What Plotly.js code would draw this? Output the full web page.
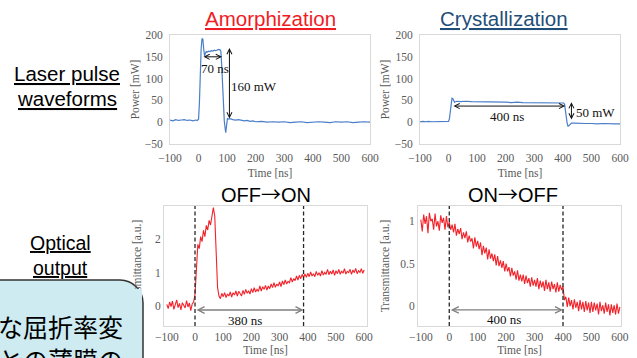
<!DOCTYPE html>
<html>
<head>
<meta charset="utf-8">
<script src="https://cdn.plot.ly/plotly-3.0.1.min.js"></script>
<style>
html,body{margin:0;padding:0;background:#fff;}
#chart{width:637px;height:358px;}
</style>
</head>
<body>
<div id="chart"></div>
<script>
// ---------- data ----------
const tAmorph = [-100,-90,-80,-70,-60,-50,-40,-30,-20,-10,-5,0,3,6,9,12,15,18,21,24,27,30,35,40,45,50,55,60,65,70,75,78,81,84,87,90,93,95,98,101,105,110,120,130,140,150,160,170,180,190,200,220,240,260,280,300,320,340,360,380,400,420,440,460,480,500,520,540,560,580,600];
const pAmorph = [5,3,6,4,5,6,4,5,3,5,4,7,45,115,168,192,190,168,152,158,162,161,163,162,164,163,165,164,166,167,166,163,130,75,28,3,-14,-24,-8,9,7,8,6,5,6,4,3,4,2,3,1,2,0,1,0,1,-1,0,1,-1,0,1,0,-1,1,0,1,-1,0,1,0];

const tCryst = [-100,-90,-80,-70,-60,-50,-40,-30,-20,-10,0,3,6,9,12,15,18,21,25,30,40,60,80,100,120,140,160,180,200,220,240,260,280,300,320,340,360,380,400,403,406,409,412,415,418,421,425,430,440,460,480,500,520,540,560,580,600];
const pCryst = [1,2,1,2,1,1,2,1,2,1,2,8,30,48,55,54,49,46,47,48,47,48,47,47,46,47,46,46,46,45,46,45,45,45,44,45,44,44,44,44,41,30,12,-2,-9,-8,-4,-2,-2,-3,-3,-3,-4,-3,-4,-4,-4];

const tOptical = [
  -100,-95,-90,-85,-80,-75,-70,-65,-60,-55,-50,-45,-40,-35,-30,-25,-20,-15,-10,-5,
  0,5,10,15,20,25,30,35,40,45,50,55,60,65,70,75,80,85,90,95,
  100,105,110,115,120,125,130,135,140,145,150,155,160,165,170,175,180,185,190,195,
  200,205,210,215,220,225,230,235,240,245,250,255,260,265,270,275,280,285,290,295,
  300,305,310,315,320,325,330,335,340,345,350,355,360,365,370,375,380,385,390,395,
  400,405,410,415,420,425,430,435,440,445,450,455,460,465,470,475,480,485,490,495,
  500,505,510,515,520,525,530,535,540,545,550,555,560,565,570,575,580,585,590,595,
  600];
const trOffOn = [
  0.05,-0.08,0.12,-0.02,0.15,-0.1,0.04,0.18,-0.05,0.08,-0.12,0.1,0.02,-0.06,0.16,-0.03,0.09,-0.14,0.06,0.12,
  0.35,1.15,1.85,1.72,2.08,1.93,2.27,2.08,2.42,2.28,2.57,2.43,2.78,2.95,2.7,1.6,0.55,0.3,0.22,0.38,
  0.28,0.4,0.25,0.36,0.3,0.42,0.27,0.4,0.33,0.45,0.3,0.44,0.36,0.3,0.47,0.35,0.5,0.38,0.46,0.36,
  0.52,0.4,0.55,0.42,0.5,0.44,0.6,0.45,0.58,0.5,0.62,0.48,0.6,0.52,0.66,0.55,0.7,0.56,0.66,0.6,
  0.72,0.58,0.75,0.64,0.78,0.66,0.74,0.7,0.85,0.72,0.82,0.76,0.9,0.78,0.92,0.82,0.95,0.85,0.96,0.86,
  0.98,0.88,1.02,0.9,0.97,0.88,1.04,0.92,1.0,0.9,1.06,0.93,1.01,0.95,1.1,0.94,1.04,0.96,1.08,0.92,
  1.06,0.97,1.1,0.95,1.05,0.98,1.12,0.96,1.04,1.0,1.1,0.95,1.08,1.0,1.13,0.97,1.06,1.01,1.12,0.98,
  1.08];
const trOnOff = [
  1.02,0.88,1.08,0.97,1.06,0.86,1.1,1.0,1.03,0.9,1.09,0.94,1.0,0.89,1.07,0.98,1.04,0.9,1.06,0.93,
  0.99,0.9,0.96,0.87,0.97,0.83,0.91,0.85,0.92,0.79,0.87,0.8,0.88,0.75,0.83,0.76,0.8,0.68,0.81,0.7,
  0.77,0.67,0.75,0.6,0.71,0.62,0.69,0.55,0.67,0.56,0.62,0.53,0.61,0.48,0.59,0.47,0.54,0.45,0.53,0.41,
  0.5,0.41,0.46,0.35,0.45,0.36,0.41,0.31,0.42,0.3,0.37,0.29,0.37,0.26,0.36,0.27,0.33,0.23,0.34,0.24,
  0.31,0.23,0.33,0.2,0.3,0.22,0.29,0.18,0.31,0.2,0.28,0.17,0.29,0.2,0.26,0.16,0.28,0.17,0.25,0.19,
  0.23,0.07,0.11,-0.01,0.1,0.0,0.07,-0.04,0.08,-0.02,0.05,-0.06,0.07,-0.04,0.05,-0.07,0.06,-0.05,0.04,-0.08,
  0.05,-0.07,0.04,-0.05,0.03,-0.1,0.05,-0.06,0.01,-0.09,0.04,-0.07,0.02,-0.11,0.02,-0.08,0.01,-0.1,0.03,-0.09,
  -0.01];

const tickTime = [-100,0,100,200,300,400,500,600];
const tickPower = [-50,0,50,100,150,200];
const tickOffOn = [0,1,2];
const tickOnOff = [0,0.5,1];
const tickOnOffText = ['0','0.5','1'];

const amorphWidthNs = [12, 82];     // 70 ns pulse width arrow, at 150 mW
const amorphHeightMw = [5, 170];    // 160 mW arrow, at 108 ns
const crystWidthNs = [12, 408];     // 400 ns arrow, at 37 mW
const crystHeightMw = [3, 46];      // 50 mW arrow, at 430 ns
const offOnMarks = [0, 385];
const onOffMarks = [0, 400];

// ---------- layout helpers ----------
const W = 637, H = 358;
const px = x => x / W;
const py = y => 1 - y / H;

const serif = 'Liberation Serif, Times New Roman, serif';
const sans = 'Liberation Sans, Arial, sans-serif';
const cjk = 'Noto Sans CJK JP, sans-serif';
const tickFont = {family: serif, size: 11.5, color: '#595959'};
const titleFont = {family: serif, size: 11.5, color: '#595959'};
const base = {showgrid:false, zeroline:false, showline:true, mirror:true,
  linecolor:'#D9D9D9', linewidth:1, ticks:'', tickfont:tickFont, fixedrange:true};

const blue = '#4A7EC7';
const red = 'rgba(240,22,30,0.95)';

const traces = [
  {x:tAmorph, y:pAmorph, xaxis:'x', yaxis:'y', mode:'lines', line:{color:blue, width:1.2}},
  {x:tCryst, y:pCryst, xaxis:'x2', yaxis:'y2', mode:'lines', line:{color:blue, width:1.2}},
  {x:tOptical, y:trOffOn, xaxis:'x3', yaxis:'y3', mode:'lines', line:{color:red, width:1.1}},
  {x:tOptical, y:trOnOff, xaxis:'x4', yaxis:'y4', mode:'lines', line:{color:red, width:1.1}}
];

const shapes = [];
offOnMarks.forEach(m => shapes.push({type:'line', xref:'x3', yref:'y3 domain', x0:m, x1:m, y0:0, y1:1,
  line:{color:'#262626', width:1.3, dash:'4px,2.5px'}}));
onOffMarks.forEach(m => shapes.push({type:'line', xref:'x4', yref:'y4 domain', x0:m, x1:m, y0:0, y1:1,
  line:{color:'#262626', width:1.3, dash:'4px,2.5px'}}));

// rounded call-out box (bottom-left)
const boxFill = '#CDEBF1';
const P = (x, y) => px(x) + ',' + py(y);
shapes.push({type:'path', xref:'paper', yref:'paper',
  path: 'M' + P(-5,280) + ' L' + P(120,280) + ' C' + P(132.7,280) + ' ' + P(143,290.3) + ' ' + P(143,303) +
        ' L' + P(143,370) + ' L' + P(-5,370) + ' Z',
  fillcolor: boxFill, line:{color:'#333333', width:1.5}, layer:'above'});

function arrow(xr, yr, x0, y0, x1, y1, color, w) {
  return {xref:xr, yref:yr, axref:xr, ayref:yr, x:x1, y:y1, ax:x0, ay:y0, text:'',
    showarrow:true, arrowside:'end+start', arrowhead:5, startarrowhead:5,
    arrowsize:1, startarrowsize:1, arrowwidth:w, arrowcolor:color};
}
function label(xr, yr, x, y, text, opts) {
  return Object.assign({xref:xr, yref:yr, x:x, y:y, text:text, showarrow:false,
    xanchor:'center', yanchor:'middle',
    font:{family:serif, size:13, color:'#111'}}, opts || {});
}
function big(x, y, text, color, size) {
  return {xref:'paper', yref:'paper', x:px(x), y:py(y), text:text, showarrow:false,
    xanchor:'center', yanchor:'middle', font:{family:sans, size:size || 20, color:color || '#000'}};
}
const arrowGlyph = '<span style="font-family:Noto Sans CJK JP">→</span>';

const annotations = [
  big(270, 18, '<u>Amorphization</u>', '#F01C24', 20.5),
  big(504, 18, '<u>Crystallization</u>', '#1F4E79', 20.5),
  big(67, 73, '<u>Laser pulse</u>', '#000', 20.5),
  big(67, 98, '<u>waveforms</u>', '#000', 20.5),
  big(266, 193, 'OFF' + arrowGlyph + 'ON', '#000', 20),
  big(513, 193, 'ON' + arrowGlyph + 'OFF', '#000', 20),
  big(60, 243, '<u>Optical</u>', '#000', 19.5),
  big(60, 268, '<u>output</u>', '#000', 19.5),

  arrow('x','y', amorphWidthNs[0], 150, amorphWidthNs[1], 150, '#111', 1),
  arrow('x','y', 108, amorphHeightMw[0], 108, amorphHeightMw[1], '#111', 1),
  label('x','y', 56, 124, '70 ns'),
  label('x','y', 195, 81, '160 mW'),

  arrow('x2','y2', crystWidthNs[0], 37, crystWidthNs[1], 37, '#111', 1),
  arrow('x2','y2', 430, crystHeightMw[0], 430, crystHeightMw[1], '#111', 1),
  label('x2','y2', 206, 14, '400 ns'),
  label('x2','y2', 514, 22, '50 mW'),

  arrow('x3','y3', offOnMarks[0], -0.12, offOnMarks[1], -0.12, '#7F7F7F', 1.3),
  label('x3','y3', 177, -0.42, '380 ns'),
  arrow('x4','y4', onOffMarks[0], -0.045, onOffMarks[1], -0.045, '#7F7F7F', 1.3),
  label('x4','y4', 194, -0.16, '400 ns'),

  // call-out text (cut off by the page edges, as in the slide)
  {xref:'paper', yref:'paper', x:px(142), y:py(289), xanchor:'right', yanchor:'top',
   width:220, height:90, align:'right', valign:'top', borderpad:19, borderwidth:0,
   bgcolor:boxFill, showarrow:false,
   text:'大きな屈折率変<br>化との薄膜の',
   font:{family:cjk, size:25, color:'#000'}}
];

const layout = {
  width: W, height: H,
  margin: {l:0, r:0, t:0, b:0},
  paper_bgcolor:'#fff', plot_bgcolor:'#fff',
  showlegend:false, hovermode:false,
  xaxis: Object.assign({}, base, {domain:[px(170), px(370)], range:[-100,600], tickvals:tickTime, anchor:'y',
    ticklabelstandoff:3, title:{text:'Time [ns]', font:titleFont, standoff:6}}),
  yaxis: Object.assign({}, base, {domain:[py(144), py(35)], range:[-50,200], tickvals:tickPower, anchor:'x',
    ticklabelstandoff:4, title:{text:'Power [mW]', font:titleFont, standoff:2}}),
  xaxis2: Object.assign({}, base, {domain:[px(420), px(620)], range:[-100,600], tickvals:tickTime, anchor:'y2',
    ticklabelstandoff:3, title:{text:'Time [ns]', font:titleFont, standoff:6}}),
  yaxis2: Object.assign({}, base, {domain:[py(144), py(35)], range:[-50,200], tickvals:tickPower, anchor:'x2',
    ticklabelstandoff:4, title:{text:'Power [mW]', font:titleFont, standoff:2}}),
  xaxis3: Object.assign({}, base, {domain:[px(164), px(367)], range:[-110,610], tickvals:tickTime, anchor:'y3',
    title:{text:'Time [ns]', font:titleFont, standoff:4}}),
  yaxis3: Object.assign({}, base, {domain:[py(326), py(206)], range:[-0.6,3.0], tickvals:tickOffOn, anchor:'x3',
    title:{text:'Transmittance [a.u.]', font:titleFont, standoff:10}}),
  xaxis4: Object.assign({}, base, {domain:[px(418), px(621)], range:[-110,604], tickvals:tickTime, anchor:'y4',
    title:{text:'Time [ns]', font:titleFont, standoff:4}}),
  yaxis4: Object.assign({}, base, {domain:[py(326), py(206)], range:[-0.235,1.18], tickvals:tickOnOff,
    ticktext:tickOnOffText, anchor:'x4',
    title:{text:'Transmittance [a.u.]', font:titleFont, standoff:8}}),
  shapes: shapes,
  annotations: annotations
};

Plotly.newPlot('chart', traces, layout, {staticPlot:true, displayModeBar:false});
</script>
</body>
</html>
